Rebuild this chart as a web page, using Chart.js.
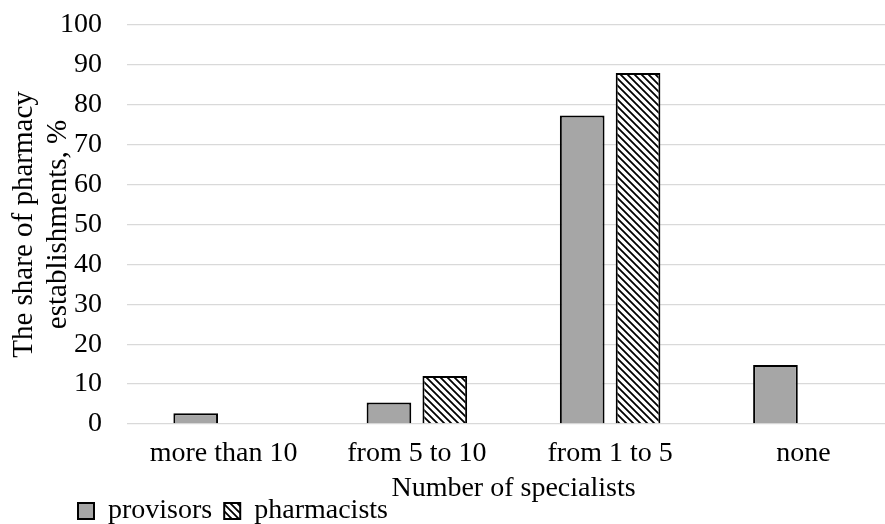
<!DOCTYPE html>
<html>
<head>
<meta charset="utf-8">
<script src="https://cdn.jsdelivr.net/npm/chart.js@4"></script>
<style>
  html, body { margin: 0; padding: 0; background: #fff; overflow: hidden; }
  #chart { display: block; }
</style>
</head>
<body>
<canvas id="chart" width="900" height="524"></canvas>
<script>
const categories = ["more than 10", "from 5 to 10", "from 1 to 5", "none"];
const provisors = [2.7, 5.4, 77.3, 14.8];
const pharmacists = [0, 12, 88, 0];
const yTicks = [0, 10, 20, 30, 40, 50, 60, 70, 80, 90, 100];

const FONT = "'Liberation Serif', 'Times New Roman', serif";
const FS = 28;

// diagonal hatch like Excel's "wide downward diagonal"
function hatch() {
  const c = document.createElement("canvas");
  c.width = 7; c.height = 7;
  const g = c.getContext("2d");
  g.fillStyle = "#fff";
  g.fillRect(0, 0, 7, 7);
  g.strokeStyle = "#000";
  g.lineWidth = 1.8;
  g.beginPath();
  g.moveTo(-1, -1); g.lineTo(8, 8);
  g.moveTo(-1, 6); g.lineTo(1, 8);
  g.moveTo(6, -1); g.lineTo(8, 1);
  g.stroke();
  return g.createPattern(c, "repeat");
}

// legend goes under the axis title at the left, axis title to the bottom edge
const placeBoxes = {
  id: "placeBoxes",
  afterLayout(chart) {
    const lg = chart.legend;
    const w = lg.right - lg.left, h = lg.bottom - lg.top;
    lg.left = 66; lg.right = 66 + w;
    lg.top = 485; lg.bottom = 485 + h;
    chart.scales.x.bottom = 524;
  }
};

new Chart(document.getElementById("chart"), {
  type: "bar",
  data: {
    labels: categories,
    datasets: [{
      label: "provisors",
      data: provisors,
      backgroundColor: "#a6a6a6",
      borderColor: "#000",
      borderWidth: 2,
      categoryPercentage: 0.578,
      barPercentage: 0.8
    }, {
      label: "pharmacists",
      data: pharmacists,
      backgroundColor: hatch(),
      borderColor: "#000",
      borderWidth: 2,
      categoryPercentage: 0.578,
      barPercentage: 0.8
    }]
  },
  plugins: [placeBoxes],
  options: {
    responsive: false,
    animation: false,
    layout: { padding: { left: 2, top: 25, right: 0, bottom: 0 } },
    plugins: {
      tooltip: { enabled: false },
      legend: {
        position: "bottom",
        align: "start",
        labels: {
          color: "#000",
          font: { family: FONT, size: FS },
          boxWidth: 16,
          boxHeight: 16,
          padding: 12
        }
      }
    },
    scales: {
      x: {
        afterFit: s => { s.height = 50; },
        grid: { display: false, drawTicks: false },
        border: { display: false },
        ticks: { color: "#000", font: { family: FONT, size: FS }, padding: 13, maxRotation: 0 },
        title: {
          display: true,
          text: "Number of specialists",
          color: "#000",
          font: { family: FONT, size: FS },
          padding: { top: 0, bottom: 19 }
        }
      },
      y: {
        min: 0,
        max: 100,
        afterBuildTicks: s => { s.ticks = yTicks.map(v => ({ value: v })); },
        afterFit: s => { s.width = 125; s.paddingTop = 0; s.paddingBottom = 0; },
        grid: { color: "#d9d9d9", lineWidth: 1.3, drawTicks: false },
        border: { display: false },
        ticks: { color: "#000", font: { family: FONT, size: FS }, padding: 25 },
        title: {
          display: true,
          text: ["The share of pharmacy", "establishments, %"],
          color: "#000",
          font: { family: FONT, size: 29, lineHeight: 1.17 },
          padding: { top: 5, bottom: 0 }
        }
      }
    }
  }
});
</script>
</body>
</html>
